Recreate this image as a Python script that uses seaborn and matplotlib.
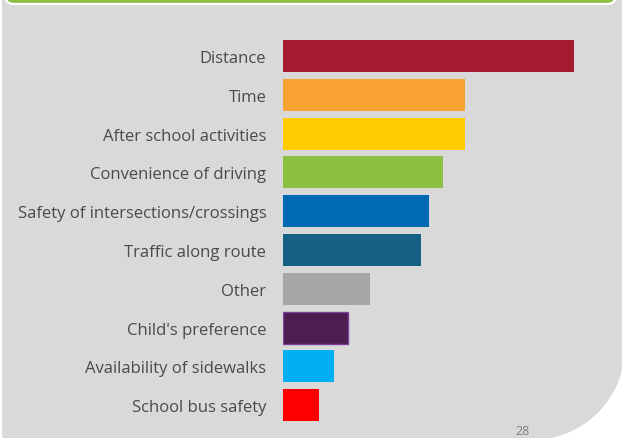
import numpy as np
import pandas as pd
import seaborn as sns
import matplotlib.pyplot as plt
from matplotlib.patches import FancyBboxPatch, Polygon
from matplotlib.transforms import Affine2D

W, H = 622, 439

# reasons for driving children to school
reasons = ['Distance', 'Time', 'After school activities', 'Convenience of driving',
           'Safety of intersections/crossings', 'Traffic along route', 'Other',
           "Child's preference", 'Availability of sidewalks', 'School bus safety']
counts = [80, 50, 50, 44, 40, 38, 24, 18, 14, 10]
bar_colors = ['#A51C30', '#F8A233', '#FFCC00', '#8CC043', '#0069B4',
              '#156083', '#A6A6A6', '#4C1E4F', '#00B0F0', '#FF0000']
page_number = '28'

df = pd.DataFrame({'reason': reasons, 'count': counts})

sns.set_style('white')
plt.rcParams['font.family'] = ['Open Sans', 'DejaVu Sans']

fig = plt.figure(figsize=(W / 100, H / 100), dpi=100, facecolor='white')
px = Affine2D().scale(1 / W, -1 / H).translate(0, 1) + fig.transFigure

# grey page panel with rounded bottom-right corner
cx, cy, r = 532, 348, 93
theta = np.linspace(0, np.pi / 2, 40)
arc = np.column_stack([cx + r * np.cos(theta), cy + r * np.sin(theta)])
panel = np.vstack([[[2, H + 5], [2, -5], [cx + r, -5]], arc, [[2, cy + r]]])
fig.patches.append(Polygon(panel, closed=True, transform=px,
                           facecolor='#D9D9D9', edgecolor='none', zorder=-2))

# green header strip
fig.patches.append(FancyBboxPatch((5, -20), 611, 25, boxstyle='round,pad=0,rounding_size=9',
                                  transform=px, facecolor='#8CC043', edgecolor='white',
                                  linewidth=1.6, zorder=-1))

ax = fig.add_axes([283 / W, 1 - 425.6 / H, 291 / W, 388 / H])
ax.set_zorder(1)
ax.patch.set_alpha(0)
sns.barplot(data=df, x='count', y='reason', hue='reason', palette=bar_colors,
            legend=False, saturation=1, width=0.82, orient='h', linewidth=0, ax=ax)

# child's preference bar has a lighter purple outline
ax.patches[reasons.index("Child's preference")].set_edgecolor('#7F3F98')
ax.patches[reasons.index("Child's preference")].set_linewidth(1)

ax.set_xlim(0, max(counts))
ax.set_ylim(len(reasons) - 0.5, -0.5)
ax.set_xlabel('')
ax.set_ylabel('')
ax.set_xticks([])
ax.tick_params(axis='y', length=0, pad=12, labelsize=12, labelcolor='#4A4A4A')
sns.despine(ax=ax, left=True, bottom=True)

fig.text(523 / W, 1 - 438 / H, page_number, ha='center', va='bottom',
         fontsize=9, color='#808080')

fig.savefig('out.png', dpi=100, facecolor='white')
